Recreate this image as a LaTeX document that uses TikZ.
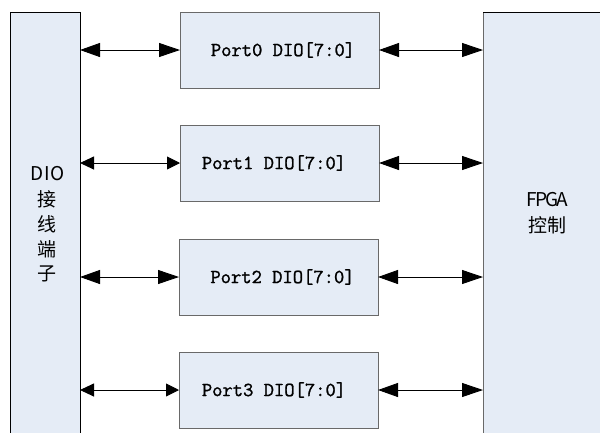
\documentclass[tikz,border=0pt]{standalone}
\usepackage{fontspec}
\newfontfamily\cjk{Noto Sans CJK SC}
\newfontfamily\portfont{Latin Modern Mono}[FakeBold=1.3]
\usetikzlibrary{arrows.meta}
\definecolor{boxfill}{RGB}{229,236,246}
\definecolor{boxline}{RGB}{105,105,105}
\newcommand\mchar[1]{\makebox[10.4pt]{#1}}
\begin{document}
\begin{tikzpicture}[x=1pt,y=-1pt,
  sidebox/.style={draw=boxline, fill=boxfill, line width=1pt, inner sep=0pt, outer sep=0pt, anchor=north west},
  portbox/.style={draw=boxline, fill=boxfill, line width=1pt, inner sep=0pt, outer sep=0pt, anchor=north west, minimum width=199pt, minimum height=76pt},
  porttext/.style={font=\fontsize{20}{20}\selectfont\portfont, inner sep=0pt},
  cjktext/.style={font=\fontsize{19}{19}\selectfont\cjk, inner sep=0pt},
  bigbi/.style={line width=0.9pt, {Triangle[length=20pt,width=14pt]}-{Triangle[length=21pt,width=14pt]}},
  smallbi/.style={line width=0.9pt, {Triangle[length=14pt,width=13pt]}-{Triangle[length=13pt,width=13pt]}}
]
\useasboundingbox (0,0) rectangle (600,432);
\clip (0,0) rectangle (600,432);
\fill[white] (0,0) rectangle (600,432);
% side boxes
\node[sidebox, draw=black, minimum width=70pt, minimum height=440pt] (L) at (10,12) {};
\node[sidebox, minimum width=140pt, minimum height=440pt] (R) at (483,12) {};
\draw[black, line width=1pt] (R.north west) -- (R.north east);
% port boxes
\node[portbox] (p0) at (180,12) {};
\node[portbox] (p1) at (180,125) {};
\node[portbox] (p2) at (179,239) {};
\node[portbox] (p3) at (179,352) {};
% port labels
\node[porttext] (t0) at ([xshift=3.5pt]p0.center) {Port0 DIO[7:0]};
\node[porttext] (t1) at ([xshift=-5.5pt]p1.center) {Port1 DIO[7:0]};
\node[porttext] (t2) at ([xshift=4pt]p2.center) {Port2 DIO[7:0]};
\node[porttext] (t3) at ([xshift=-4.5pt]p3.center) {Port3 DIO[7:0]};
% left labels
\node[cjktext] (l0) at (47,174) {\mchar{D}\mchar{I}\mchar{O}};
\node[cjktext] (l1) at (47,199) {接};
\node[cjktext] (l2) at (47,224) {线};
\node[cjktext] (l3) at (47,249) {端};
\node[cjktext] (l4) at (47,274) {子};
% right labels
\node[cjktext] (r0) at (547,200) {\mchar{F}\mchar{P}\mchar{G}\mchar{A}};
\node[cjktext] (r1) at (547,225) {控制};
% connectors
\draw[bigbi] (L.east |- p0.west) -- (p0.west);
\draw[smallbi] (L.east |- p1.west) -- (p1.west);
\draw[bigbi] (L.east |- p2.west) -- (p2.west);
\draw[smallbi] (L.east |- p3.west) -- (p3.west);
\draw[bigbi] (p0.east) -- (R.west |- p0.east);
\draw[bigbi] (p1.east) -- (R.west |- p1.east);
\draw[bigbi] (p2.east) -- (R.west |- p2.east);
\draw[bigbi] (p3.east) -- (R.west |- p3.east);
\end{tikzpicture}
\end{document}
